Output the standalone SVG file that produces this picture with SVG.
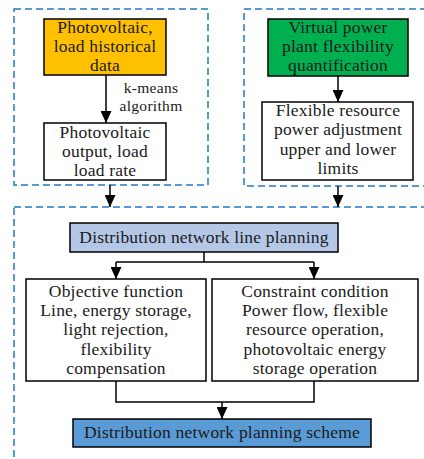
<svg xmlns="http://www.w3.org/2000/svg" width="424" height="459" viewBox="0 0 424 459">
  <defs>
    <marker id="arrow" viewBox="0 0 12 11" refX="12" refY="5.5" markerWidth="12" markerHeight="11" markerUnits="userSpaceOnUse" orient="auto">
      <path d="M0,0 L12,5.5 L0,11 Z" fill="#000"/>
    </marker>
    <style>
      .frame { fill: none; stroke: #1F78C8; stroke-width: 1.5; stroke-dasharray: 7 4; }
      .box { stroke: #000; stroke-width: 1.5; }
      text { font-family: "Liberation Serif", "Times New Roman", serif; fill: #1a1a1a; text-anchor: middle; }
      .t { font-size: 17.5px; letter-spacing: 0.2px; }
      .s { font-size: 15.5px; letter-spacing: 0.3px; }
      .wire { fill: none; stroke: #000; stroke-width: 1.5; }
    </style>
  </defs>
  <rect width="424" height="459" fill="#fff"/>

  <!-- dashed stage frames -->
  <g id="frames">
    <rect class="frame" x="14" y="9" width="194" height="176"/>
    <rect class="frame" x="244" y="9" width="186" height="177"/>
    <rect class="frame" x="14" y="207" width="416" height="270"/>
  </g>

  <!-- connectors -->
  <g id="connectors">
    <line class="wire" x1="106" y1="75" x2="106" y2="123" marker-end="url(#arrow)"/>
    <line class="wire" x1="338" y1="76" x2="338" y2="102" marker-end="url(#arrow)"/>
    <line class="wire" x1="110" y1="185" x2="110" y2="207" marker-end="url(#arrow)"/>
    <line class="wire" x1="338" y1="186" x2="338" y2="207" marker-end="url(#arrow)"/>
    <polyline class="wire" points="204,252 204,262"/>
    <polyline class="wire" points="116,262 314,262"/>
    <line class="wire" x1="116" y1="262" x2="116" y2="279" marker-end="url(#arrow)"/>
    <line class="wire" x1="314" y1="262" x2="314" y2="279" marker-end="url(#arrow)"/>
    <polyline class="wire" points="116,381 116,402 314,402 314,381"/>
    <line class="wire" x1="222" y1="402" x2="222" y2="419" marker-end="url(#arrow)"/>
    <text class="s" x="151" y="93">k-means</text>
    <text class="s" x="151" y="111">algorithm</text>
  </g>

  <g id="pv-history">
    <rect class="box" x="44" y="19" width="122" height="56" fill="#FFC000"/>
    <text class="t" x="105" y="33">Photovoltaic,</text>
    <text class="t" x="105" y="52">load historical</text>
    <text class="t" x="105" y="71">data</text>
  </g>

  <g id="pv-output">
    <rect class="box" x="44" y="123" width="122" height="57" fill="#fff"/>
    <text class="t" x="105" y="138">Photovoltaic</text>
    <text class="t" x="105" y="157">output, load</text>
    <text class="t" x="105" y="176">load rate</text>
  </g>

  <g id="vpp-flex">
    <rect class="box" x="268" y="19" width="140" height="57" fill="#00B050"/>
    <text class="t" x="338" y="33">Virtual power</text>
    <text class="t" x="338" y="52">plant flexibility</text>
    <text class="t" x="338" y="71">quantification</text>
  </g>

  <g id="flex-limits">
    <rect class="box" x="262" y="102" width="151" height="78" fill="#fff"/>
    <text class="t" x="338" y="116">Flexible resource</text>
    <text class="t" x="338" y="135">power adjustment</text>
    <text class="t" x="338" y="155">upper and lower</text>
    <text class="t" x="338" y="174">limits</text>
  </g>

  <g id="line-planning">
    <rect class="box" x="70" y="223" width="268" height="29" fill="#B4C7E7"/>
    <text class="t" x="204" y="243">Distribution network line planning</text>
  </g>

  <g id="objective">
    <rect class="box" x="26" y="279" width="180" height="102" fill="#fff"/>
    <text class="t" x="116" y="297">Objective function</text>
    <text class="t" x="116" y="316">Line, energy storage,</text>
    <text class="t" x="116" y="335">light rejection,</text>
    <text class="t" x="116" y="355">flexibility</text>
    <text class="t" x="116" y="374">compensation</text>
  </g>

  <g id="constraint">
    <rect class="box" x="212" y="279" width="206" height="102" fill="#fff"/>
    <text class="t" x="315" y="297">Constraint condition</text>
    <text class="t" x="315" y="316">Power flow, flexible</text>
    <text class="t" x="315" y="335">resource operation,</text>
    <text class="t" x="315" y="355">photovoltaic energy</text>
    <text class="t" x="315" y="374">storage operation</text>
  </g>

  <g id="planning-scheme">
    <rect class="box" x="73" y="419" width="298" height="28" fill="#5B9BD5"/>
    <text class="t" x="222" y="438">Distribution network planning scheme</text>
  </g>
</svg>
